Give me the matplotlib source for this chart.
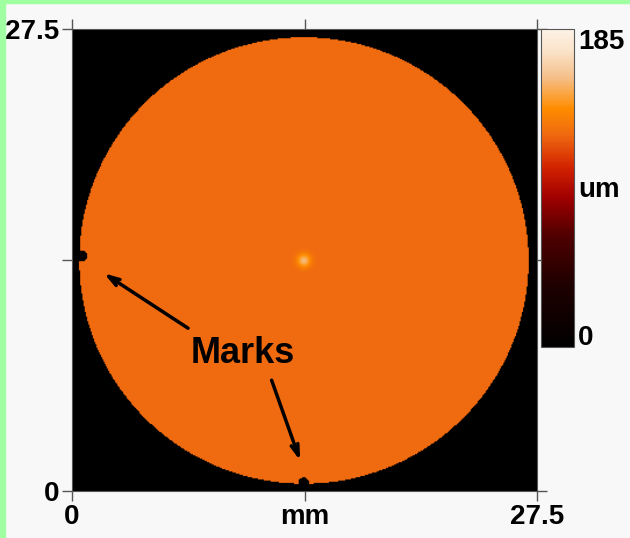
import matplotlib
matplotlib.use("Agg")
import matplotlib.pyplot as plt
import numpy as np
from matplotlib.colors import LinearSegmentedColormap
from matplotlib.patches import Rectangle

# scan data (mm / um)
size_mm = 27.5
z_max_um = 185
disk_center_mm = [13.72, 13.72]
disk_radius_mm = 13.32
disk_height_um = 124
spot_height_um = 155
spot_radius_mm = 0.4
mark_x_mm = [0.55, 13.7]
mark_y_mm = [14.0, 0.45]
mark_radius_mm = 0.32

cmap_stops = [0.0, 0.2, 0.35, 0.47, 0.56, 0.67, 0.75, 0.85, 0.93, 1.0]
cmap_colors = ["#000000", "#200000", "#500000", "#a00000", "#d02000",
               "#f06a10", "#ff8c00", "#f5c08a", "#fae2c8", "#fdf3e8"]


def main():
    plt.rcParams['font.family'] = ['Liberation Sans', 'DejaVu Sans']
    plt.rcParams['font.weight'] = 'bold'

    cmap = LinearSegmentedColormap.from_list("surf", list(zip(cmap_stops, cmap_colors)))

    n = 400
    xs = np.linspace(0, size_mm, n)
    X, Y = np.meshgrid(xs, xs)
    r = np.hypot(X - disk_center_mm[0], Y - disk_center_mm[1])
    Z = np.where(r <= disk_radius_mm, disk_height_um, 0.0)
    Z = Z + (spot_height_um - disk_height_um) * np.exp(-(r / spot_radius_mm) ** 2)
    for mx, my in zip(mark_x_mm, mark_y_mm):
        Z[np.hypot(X - mx, Y - my) < mark_radius_mm] = 0

    fig = plt.figure(figsize=(6.3, 5.38), dpi=100, facecolor="#f8f8f8")
    fig.patches.append(Rectangle((0, 0), 5 / 630, 1, transform=fig.transFigure,
                                 color="#a0ffa0", zorder=0))
    fig.patches.append(Rectangle((0, 1 - 3 / 538), 1, 3 / 538, transform=fig.transFigure,
                                 color="#a0ffa0", zorder=0))

    ax = fig.add_axes([72 / 630, 47 / 538, 465 / 630, 462 / 538])
    im = ax.imshow(Z, cmap=cmap, vmin=0, vmax=z_max_um, origin="lower",
                   extent=[0, size_mm, 0, size_mm], aspect="auto", interpolation="bilinear")
    ax.set_xlim(0, size_mm)
    ax.set_ylim(0, size_mm)
    ax.set_xticks([0, size_mm / 2, size_mm])
    ax.set_xticklabels(["0", "mm", "27.5"])
    ax.set_yticks([0, size_mm / 2, size_mm])
    ax.set_yticklabels(["0", "", "27.5"])
    ax.tick_params(top=True, right=True, direction="out", length=7, width=1,
                   color="#555555", labelsize=20, pad=2)
    for s in ax.spines.values():
        s.set_color("#555555")

    ax.annotate("", xy=(1.75, 13.05), xytext=(7.0, 9.6),
                arrowprops=dict(arrowstyle="->,head_length=0.8,head_width=0.25", lw=2.5, color="black"))
    ax.annotate("", xy=(13.55, 1.65), xytext=(11.75, 6.75),
                arrowprops=dict(arrowstyle="->,head_length=0.8,head_width=0.25", lw=2.5, color="black"))
    ax.text(10.1, 8.2, "Marks", fontsize=26, fontweight="bold", ha="center", va="center")

    cax = fig.add_axes([541 / 630, 191 / 538, 33 / 630, 318 / 538])
    cb = fig.colorbar(im, cax=cax)
    cb.set_ticks([])
    cb.outline.set_edgecolor("#555555")
    fig.text(578 / 630, 1 - 42 / 538, "185", fontsize=20, va="center", ha="left")
    fig.text(578 / 630, 1 - 190 / 538, "um", fontsize=20, va="center", ha="left")
    fig.text(578 / 630, 1 - 338 / 538, "0", fontsize=20, va="center", ha="left")

    fig.savefig("out.png", dpi=100, facecolor=fig.get_facecolor())


if __name__ == '__main__':
    main()
